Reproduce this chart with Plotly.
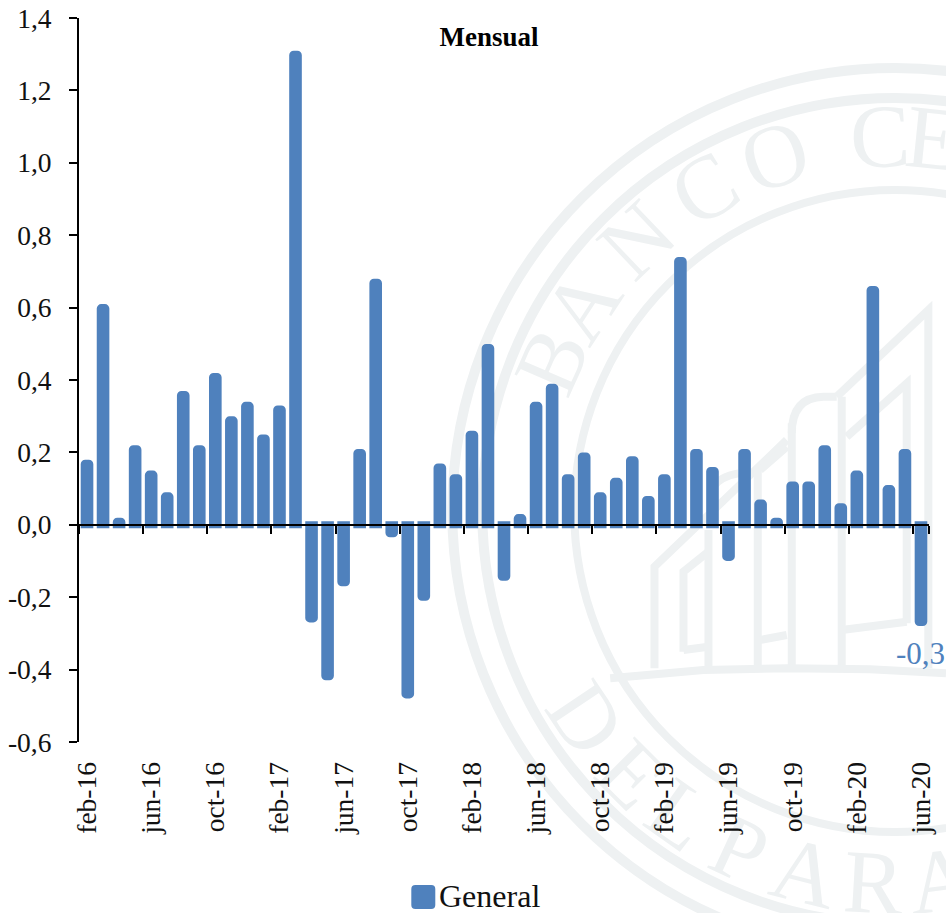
import math
import plotly.graph_objects as go

months = ["feb-16","mar-16","abr-16","may-16","jun-16","jul-16","ago-16","sep-16","oct-16","nov-16","dic-16",
          "ene-17","feb-17","mar-17","abr-17","may-17","jun-17","jul-17","ago-17","sep-17","oct-17","nov-17","dic-17",
          "ene-18","feb-18","mar-18","abr-18","may-18","jun-18","jul-18","ago-18","sep-18","oct-18","nov-18","dic-18",
          "ene-19","feb-19","mar-19","abr-19","may-19","jun-19","jul-19","ago-19","sep-19","oct-19","nov-19","dic-19",
          "ene-20","feb-20","mar-20","abr-20","may-20","jun-20"]
general = [0.17,0.60,0.01,0.21,0.14,0.08,0.36,0.21,0.41,0.29,0.33,
           0.24,0.32,1.30,-0.26,-0.42,-0.16,0.20,0.67,-0.025,-0.47,-0.20,0.16,
           0.13,0.25,0.49,-0.145,0.02,0.33,0.38,0.13,0.19,0.08,0.12,0.18,
           0.07,0.13,0.73,0.20,0.15,-0.09,0.20,0.06,0.01,0.11,0.11,0.21,
           0.05,0.14,0.65,0.10,0.20,-0.27]
last_label = "-0,3"
x_tick_labels = months[::4]
y_ticks = [-0.6,-0.4,-0.2,0.0,0.2,0.4,0.6,0.8,1.0,1.2,1.4]
y_tick_labels = ["-0,6","-0,4","-0,2","0,0","0,2","0,4","0,6","0,8","1,0","1,2","1,4"]

FONT = "Liberation Serif"
BLUE = "#4f81bd"
MARK = "#eef1f2"
L, R, T, B = 78.5, 929.0, 18.0, 742.0

def px(x): return (x - L) / (R - L)
def py(y): return (B - y) / (B - T)
def pt(x, y): return f"{px(x):.5f},{py(y):.5f}"
def zx(a, b): return pt(620 + a / 3, 290 + b / 3)

def zoom_path(points):
    return "M" + " L".join(zx(a, b) for a, b in points)

shapes = []
CX, CY = 895, 511
for rad, w in [(443, 10), (413, 10), (321, 8)]:
    shapes.append(dict(type="circle", xref="paper", yref="paper", layer="below",
                       x0=px(CX - rad), x1=px(CX + rad), y0=py(CY + rad), y1=py(CY - rad),
                       line=dict(color=MARK, width=w)))

building = [
    [(103,1135),(103,830),(500,450)],
    [(190,1085),(190,845),(265,785)],
    [(190,1080),(265,1070)],
    [(265,720),(265,1135)],
    [(413,540),(413,1135)],
    [(420,540),(500,470)],
    [(420,1050),(500,1035)],
    [(515,400),(515,1135)],
    [(665,320),(665,1135)],
    [(680,440),(860,280),(860,1000)],
    [(665,1020),(860,995)],
    [(650,320),(925,60),(925,1135)],
    [(-30,1165),(250,1140),(500,1135),(750,1138),(978,1150)],
]
paths = [zoom_path(p) for p in building]
paths.append(f"M{zx(515,430)} Q{zx(515,322)} {zx(610,320)} L{zx(650,320)}")
paths.append(f"M{zx(280,590)} Q{zx(300,560)} {zx(355,550)}")
for p in paths:
    shapes.append(dict(type="path", xref="paper", yref="paper", layer="below",
                       path=p, line=dict(color=MARK, width=8)))

UPPER = [("B",-66.4),("A",-56.7),("N",-43.6),("C",-30.6),("O",-18.7),("C",-2.3),("E",5.9)]
LOWER = [("D",56.2),("E",45),("L",35.3),("P",24.7),("A",14),("R",3.3),("A",-7.1)]
LIFT = 16  # the label's baseline sits this far below the shape's centre
centres = []
for ch, a in UPPER:
    s, c = math.sin(math.radians(a)), math.cos(math.radians(a))
    centres.append((ch, a, CX + 369 * s + LIFT * s, CY - 369 * c - LIFT * c))
for ch, a in LOWER:
    s, c = math.sin(math.radians(a)), math.cos(math.radians(a))
    centres.append((ch, a, CX - 378 * s + LIFT * s, CY + 378 * c - LIFT * c))
for ch, a, x, y in centres:
    shapes.append(dict(type="rect", xref="paper", yref="paper", layer="below",
                       x0=px(x-1), x1=px(x+1), y0=py(y+1), y1=py(y-1), line=dict(width=0),
                       label=dict(text=ch, textangle=a, textposition="middle center",
                                  font=dict(family=FONT, size=90, color=MARK))))

# legend swatch
x0, x1, y0, y1, r = 411, 435, 885, 909, 4
shapes.append(dict(type="path", xref="paper", yref="paper", layer="above", fillcolor=BLUE, line=dict(width=0),
                   path=(f"M{pt(x0+r,y0)} L{pt(x1-r,y0)} Q{pt(x1,y0)} {pt(x1,y0+r)} L{pt(x1,y1-r)} Q{pt(x1,y1)} {pt(x1-r,y1)} "
                         f"L{pt(x0+r,y1)} Q{pt(x0,y1)} {pt(x0,y1-r)} L{pt(x0,y0+r)} Q{pt(x0,y0)} {pt(x0+r,y0)} Z")))

fig = go.Figure(go.Bar(
    x=months, y=general, name="General",
    marker=dict(color=BLUE, line=dict(color=BLUE, width=7), cornerradius=1),
    cliponaxis=False, hoverinfo="x+y",
))

fig.update_layout(
    width=946, height=913, autosize=False,
    margin=dict(l=L, r=946 - R, t=T, b=913 - B, pad=0, autoexpand=False),
    paper_bgcolor="white", plot_bgcolor="rgba(0,0,0,0)",
    bargap=0.65, showlegend=False, shapes=shapes,
    title=dict(text="<b>Mensual</b>", x=489/946, xanchor="center", y=1-37/913, yanchor="middle",
               font=dict(family=FONT, size=27, color="#000")),
    annotations=[
        dict(text="General", xref="paper", yref="paper", x=px(437), y=py(896),
             xanchor="left", yanchor="middle", showarrow=False,
             font=dict(family=FONT, size=32, color="#111")),
        dict(text=last_label, xref="x", yref="y", x=months[-1], y=general[-1], yshift=-31,
             xanchor="center", yanchor="middle", showarrow=False,
             font=dict(family=FONT, size=31, color=BLUE)),
    ],
    xaxis=dict(type="category", categoryorder="array", categoryarray=months,
               anchor="free", position=py(525), range=[-0.5, 52.5],
               tickson="boundaries", tickmode="array", tickvals=x_tick_labels, ticktext=x_tick_labels,
               ticks="outside", ticklen=8, tickwidth=2, tickcolor="#000",
               showline=True, linecolor="#000", linewidth=2, showgrid=False, zeroline=False,
               tickangle=-90, ticklabelstandoff=225,
               tickfont=dict(family=FONT, size=27.5, color="#111")),
    yaxis=dict(range=[-0.6, 1.4], tickmode="array", tickvals=y_ticks, ticktext=y_tick_labels,
               ticks="outside", ticklen=8, tickwidth=2, tickcolor="#000",
               showline=True, linecolor="#000", linewidth=2, showgrid=False, zeroline=False,
               ticklabelstandoff=12,
               tickfont=dict(family=FONT, size=27.5, color="#111")),
)
fig.write_html("out.html", config=dict(displayModeBar=False),
               post_script="document.body.style.margin='0';")
